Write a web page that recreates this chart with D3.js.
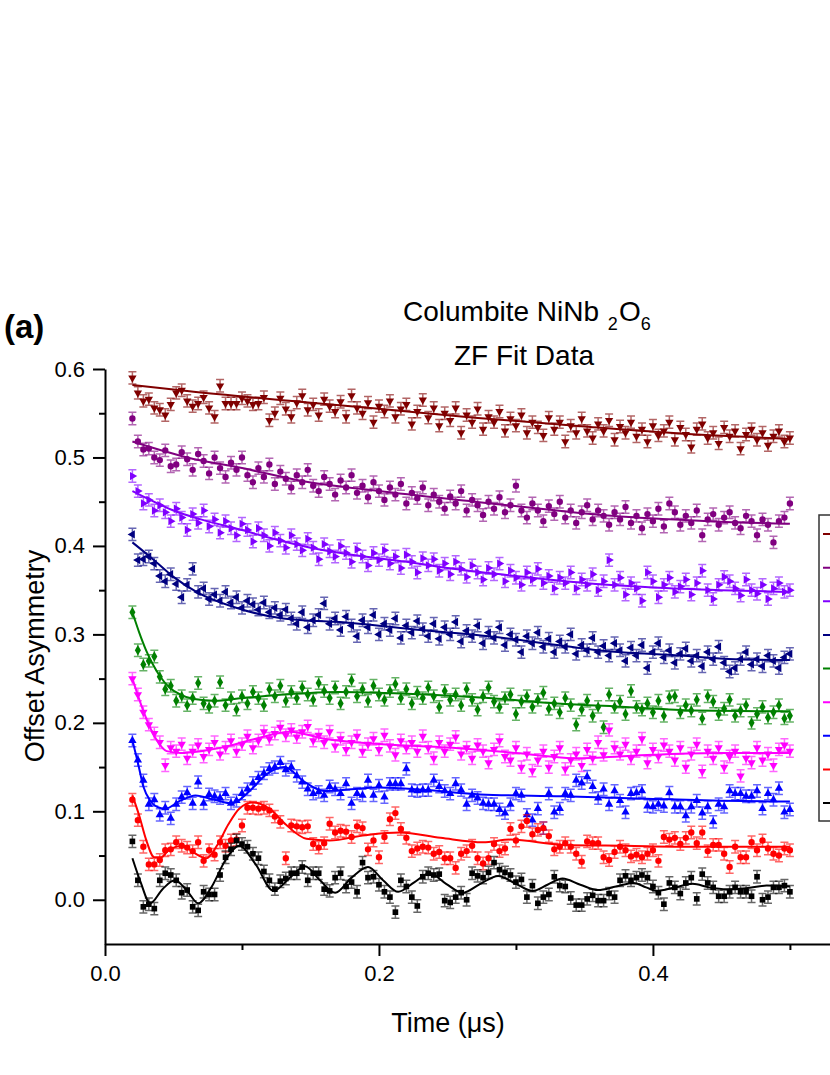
<!DOCTYPE html>
<html>
<head>
<meta charset="utf-8">
<script src="https://cdn.jsdelivr.net/npm/d3@7"></script>
<style>
body { margin: 0; background: #fff; }
text { font-family: "Liberation Sans", Arial, sans-serif; fill: #000; }
</style>
</head>
<body>
<div id="chart"></div>
<script>
// time bins, in ns (plotted in µs)
let timeNs = [
    20, 24, 28, 32, 36, 40, 44, 48, 52, 56,
    60, 64, 68, 72, 76, 80, 84, 88, 92, 96,
    100, 104, 108, 112, 116, 120, 124, 128, 132, 136,
    140, 144, 148, 152, 156, 160, 164, 168, 172, 176,
    180, 184, 188, 192, 196, 200, 204, 208, 212, 216,
    220, 224, 228, 232, 236, 240, 244, 248, 252, 256,
    260, 264, 268, 272, 276, 280, 284, 288, 292, 296,
    300, 304, 308, 312, 316, 320, 324, 328, 332, 336,
    340, 344, 348, 352, 356, 360, 364, 368, 372, 376,
    380, 384, 388, 392, 396, 400, 404, 408, 412, 416,
    420, 424, 428, 432, 436, 440, 444, 448, 452, 456,
    460, 464, 468, 472, 476, 480, 484, 488, 492, 496,
    500
];

// offset asymmetry of each curve, x1000
let wineVals = [
    590, 573, 564, 566, 556, 554, 548, 560, 573, 576,
    564, 558, 561, 568, 556, 546, 581, 561, 561, 561,
    567, 564, 560, 561, 568, 542, 550, 567, 555, 546,
    562, 570, 554, 560, 548, 566, 558, 552, 563, 546,
    570, 556, 550, 562, 540, 558, 552, 564, 546, 555,
    560, 538, 552, 565, 545, 556, 536, 550, 542, 556,
    528, 548, 540, 555, 532, 546, 540, 552, 530, 544,
    536, 548, 528, 540, 534, 525, 545, 532, 540, 518,
    536, 528, 544, 530, 522, 538, 530, 542, 520, 535,
    528, 540, 524, 532, 518, 536, 525, 530, 540, 520,
    534, 526, 512, 532, 538, 522, 528, 516, 534, 524,
    530, 510, 526, 532, 520, 528, 514, 524, 530, 518,
    522
];
let purpleVals = [
    544, 518, 509, 510, 500, 497, 508, 490, 492, 506,
    498, 486, 504, 496, 482, 500, 488, 478, 494, 486,
    500, 480, 472, 488, 478, 492, 470, 484, 476, 466,
    480, 472, 486, 468, 462, 478, 470, 458, 474, 466,
    480, 460, 468, 455, 472, 462, 452, 466, 458, 470,
    448, 460, 454, 466, 446, 458, 450, 442, 456, 448,
    462, 440, 452, 446, 435, 450, 442, 455, 438, 446,
    468, 440, 432, 448, 440, 428, 445, 436, 450, 432,
    440, 426, 438, 446, 430, 440, 434, 424, 438, 430,
    444, 426, 434, 420, 436, 428, 442, 422, 448, 438,
    424, 434, 426, 440, 412, 430, 436, 424, 432, 438,
    426, 420, 434, 428, 412, 430, 424, 404, 428, 432,
    448
];
let violetVals = [
    479, 462, 448, 452, 440, 446, 438, 428, 442, 432,
    418, 436, 426, 440, 422, 430, 415, 428, 420, 412,
    425, 418, 405, 420, 412, 400, 415, 406, 398, 412,
    402, 395, 408, 398, 385, 402, 394, 388, 400, 392,
    382, 396, 388, 378, 392, 384, 395, 380, 388, 375,
    390, 382, 370, 386, 378, 385, 372, 380, 368, 382,
    374, 365, 378, 370, 362, 375, 368, 380, 360, 372,
    364, 356, 370, 362, 374, 358, 366, 352, 364, 358,
    370, 352, 362, 356, 368, 350, 360, 384, 356, 364,
    345, 358, 352, 338, 370, 360, 342, 356, 364, 348,
    354, 362, 345, 358, 372, 350, 340, 356, 365, 360,
    352, 344, 362, 350, 346, 356, 340, 352, 358, 348,
    350
];
let navyVals = [
    413, 384, 385, 388, 380, 366, 360, 368, 357, 342,
    356, 374, 348, 352, 340, 345, 338, 348, 336, 342,
    330, 338, 334, 328, 336, 325, 330, 322, 328, 318,
    312, 325, 308, 316, 322, 335, 312, 318, 305, 320,
    310, 298, 316, 308, 322, 300, 312, 305, 318, 296,
    310, 302, 315, 306, 298, 312, 295, 308, 300, 314,
    292, 304, 298, 310, 290, 302, 296, 308, 288, 300,
    294, 280, 298, 290, 302, 286, 295, 280, 292, 286,
    300, 278, 288, 282, 296, 280, 287, 276, 290, 282,
    270, 285, 276, 288, 262, 280, 290, 274, 282, 268,
    278, 284, 270, 276, 264, 280, 272, 286, 268, 258,
    262, 272, 280, 266, 272, 264, 276, 270, 262, 274,
    278
];
let greenVals = [
    325, 282, 266, 270, 275, 252, 238, 242, 225, 230,
    220, 228, 245, 222, 218, 225, 246, 220, 228, 215,
    230, 222, 235, 228, 220, 238, 230, 242, 225, 235,
    228, 240, 232, 226, 245, 236, 228, 240, 222, 235,
    248, 230, 238, 225, 242, 232, 226, 236, 244, 228,
    238, 222, 234, 228, 240, 230, 218, 236, 226, 232,
    220, 238, 226, 215, 230, 240, 224, 218, 228, 232,
    210, 224, 230, 218, 226, 234, 216, 222, 212, 228,
    220, 198, 215, 225, 208, 218, 195, 232, 218, 224,
    210, 236, 218, 215, 222, 212, 225, 208, 229, 230,
    212, 220, 214, 226, 205, 230, 224, 210, 216, 226,
    208, 214, 220, 200, 210, 218, 206, 212, 220, 205,
    208
];
let magentaVals = [
    250, 232, 212, 198, 188, 178, 152, 172, 168, 176,
    160, 168, 175, 162, 170, 178, 165, 172, 180, 168,
    176, 185, 172, 180, 190, 182, 188, 195, 186, 192,
    184, 190, 196, 180, 186, 178, 190, 174, 182, 170,
    178, 185, 168, 176, 182, 170, 186, 174, 164, 180,
    172, 178, 168, 185, 172, 160, 178, 168, 176, 184,
    165, 172, 160, 175, 168, 155, 170, 180, 162, 158,
    172, 150, 165, 146, 158, 168, 150, 162, 172, 148,
    158, 165, 152, 170, 160, 178, 164, 192, 172, 165,
    176, 160, 168, 182, 155, 170, 162, 175, 168, 158,
    172, 150, 165, 176, 145, 168, 160, 172, 150, 162,
    168, 140, 160, 155, 172, 158, 165, 152, 170, 175,
    168
];
let blueVals = [
    180, 158, 135, 108, 113, 96, 104, 92, 108, 116,
    121, 109, 133, 109, 119, 117, 115, 120, 109, 112,
    120, 125, 132, 138, 143, 148, 150, 155, 147, 150,
    140, 133, 125, 120, 122, 118, 128, 125, 120, 131,
    109, 120, 118, 135, 118, 129, 116, 131, 131, 131,
    148, 124, 123, 124, 124, 135, 128, 123, 120, 131,
    124, 108, 118, 115, 109, 108, 108, 102, 98, 108,
    120, 118, 96, 90, 103, 81, 120, 99, 103, 120,
    118, 135, 132, 139, 128, 115, 125, 108, 123, 112,
    99, 120, 121, 123, 106, 105, 108, 106, 121, 105,
    105, 95, 105, 112, 98, 105, 88, 108, 105, 123,
    120, 120, 117, 117, 123, 103, 120, 113, 126, 99,
    102
];
let redVals = [
    113, 90, 60, 40, 40, 45, 56, 57, 65, 61,
    59, 55, 65, 44, 56, 51, 65, 61, 67, 68,
    84, 104, 104, 103, 104, 101, 94, 88, 47, 84,
    83, 82, 83, 63, 59, 64, 86, 76, 78, 77,
    71, 83, 81, 57, 67, 48, 71, 91, 98, 80,
    70, 55, 58, 60, 59, 52, 54, 47, 47, 36,
    52, 55, 61, 47, 41, 47, 63, 55, 58, 80,
    67, 83, 89, 74, 79, 81, 72, 57, 60, 64,
    60, 52, 43, 66, 64, 64, 48, 45, 54, 60,
    56, 49, 51, 48, 52, 56, 44, 71, 68, 70,
    63, 70, 76, 64, 76, 55, 62, 62, 52, 37,
    60, 48, 48, 65, 56, 67, 58, 52, 50, 58,
    56
];
let blackVals = [
    66, 22, -8, -5, -10, 22, 30, 28, 22, 8,
    11, -8, -12, 9, 6, 6, 28, 48, 57, 67,
    63, 60, 52, 47, 32, 22, 12, 21, 24, 30,
    30, 37, 22, 30, 30, 12, 10, 25, 30, 15,
    20, 9, 42, 25, 26, 17, 9, 3, -14, 22,
    15, 3, -7, 26, 30, 28, 29, -1, -3, 3,
    8, 0, 30, 27, 25, 31, 42, 34, 31, 28,
    20, 23, 3, 16, -4, 3, 6, 26, 16, 15,
    2, -6, -6, 1, 5, -1, -1, 7, 3, 22,
    27, 22, 25, 28, 25, 15, 8, -5, 19, 14,
    7, 19, 25, 1, 29, 19, 14, 4, 4, 9,
    14, 9, 9, 4, 26, 0, 3, 14, 14, 16,
    9
];

// error bar half-height of each curve, x1000 (legend order)
let errVals = [7, 7, 7, 7, 7, 7, 7, 7, 7];

// fit curves: time (ns) and value (x1000)
let wineFitT = [20, 60, 142, 200, 270, 350, 420, 500];
let wineFitV = [582, 575, 563, 555, 545, 535, 527, 521];
let purpleFitT = [20, 60, 100, 142, 200, 270, 330, 370, 440, 500];
let purpleFitV = [518, 500, 488, 474, 462, 450, 440, 434, 428, 425];
let violetFitT = [20, 33, 50, 70, 100, 118, 150, 180, 220, 250, 300, 350, 400, 450, 500];
let violetFitV = [462, 452, 440, 430, 418, 410, 398, 390, 382, 375, 366, 358, 353, 350, 348];
let navyFitT = [20, 35, 50, 68, 94, 130, 180, 230, 280, 330, 360, 420, 460, 500];
let navyFitV = [404, 385, 365, 347, 331, 318, 313, 305, 298, 288, 282, 276, 272, 271];
let greenFitT = [20, 25, 30, 35, 40, 47, 55, 65, 80, 100, 130, 170, 220, 280, 330, 380, 430, 500];
let greenFitV = [325, 302, 282, 266, 253, 240, 232, 227, 225, 228, 232, 235, 233, 228, 222, 218, 214, 213];
let magentaFitT = [20, 26, 32, 38, 45, 55, 70, 85, 110, 135, 160, 200, 250, 300, 345, 400, 450, 500];
let magentaFitV = [250, 222, 198, 180, 168, 166, 168, 172, 182, 190, 182, 176, 172, 166, 160, 164, 166, 166];
let blueFitT = [20, 24, 28, 33, 38, 44, 55, 66, 80, 93, 105, 118, 131, 145, 160, 180, 200, 235, 274, 334, 400, 450, 500];
let blueFitV = [180, 155, 128, 112, 105, 103, 112, 118, 113, 109, 122, 142, 150, 134, 123, 125, 127, 124, 119, 117, 114, 112, 111];
let redFitT = [20, 25, 30, 36, 41, 47, 57, 65, 74, 82, 90, 98, 108, 120, 132, 147, 164, 190, 215, 245, 276, 296, 334, 380, 430, 500];
let redFitV = [118, 95, 68, 48, 48, 57, 61, 53, 47, 62, 85, 103, 110, 103, 85, 69, 67, 73, 76, 70, 65, 68, 62, 61, 60, 60];
let blackFitT = [20, 26, 33, 42, 51, 60, 68, 78, 88, 98, 110, 123, 135, 146, 157, 168, 180, 192, 203, 214, 226, 237, 249, 261, 274, 287, 300, 312, 323, 334, 347, 360, 373, 386, 395, 403, 416, 429, 441, 454, 468, 483, 500];
let blackFitV = [47, 20, -4, 12, 22, 10, -4, 15, 45, 61, 40, 10, 25, 38, 22, 8, 25, 37, 22, 9, 20, 30, 18, 8, 18, 27, 18, 10, 17, 24, 17, 11, 15, 19, 14, 10, 14, 18, 14, 12, 13, 16, 15];

// axis ticks
let xTicks = [0, 0.2, 0.4];
let xMinor = [0.1, 0.3, 0.5];
let yTicks = [0, 0.1, 0.2, 0.3, 0.4, 0.5, 0.6];
let yMinor = [0.05, 0.15, 0.25, 0.35, 0.45, 0.55];

let width = 830;
let height = 1075;

var svg = d3.select("#chart")
    .append("svg")
    .attr("width", width)
    .attr("height", height);

var x = d3.scaleLinear()
    .domain([0, 0.53])
    .range([105, 831]);

var y = d3.scaleLinear()
    .domain([-0.05, 0.6])
    .range([944, 369]);

// series table, legend order (top to bottom)
var series = [
    { vals: wineVals, fitT: wineFitT, fitV: wineFitV, color: "#800000", shape: d3.symbolTriangle, rot: 180 },
    { vals: purpleVals, fitT: purpleFitT, fitV: purpleFitV, color: "#800080", shape: d3.symbolCircle, rot: 0 },
    { vals: violetVals, fitT: violetFitT, fitV: violetFitV, color: "#8000ff", shape: d3.symbolTriangle, rot: 90 },
    { vals: navyVals, fitT: navyFitT, fitV: navyFitV, color: "#000080", shape: d3.symbolTriangle, rot: -90 },
    { vals: greenVals, fitT: greenFitT, fitV: greenFitV, color: "#008000", shape: d3.symbolDiamond, rot: 0 },
    { vals: magentaVals, fitT: magentaFitT, fitV: magentaFitV, color: "#ff00ff", shape: d3.symbolTriangle, rot: 180 },
    { vals: blueVals, fitT: blueFitT, fitV: blueFitV, color: "#0000ff", shape: d3.symbolTriangle, rot: 0 },
    { vals: redVals, fitT: redFitT, fitV: redFitV, color: "#ff0000", shape: d3.symbolCircle, rot: 0 },
    { vals: blackVals, fitT: blackFitT, fitV: blackFitV, color: "#000000", shape: d3.symbolSquare, rot: 0 }
];

var fitLine = d3.line()
    .x(function (d) { return x(d[0] / 1000) })
    .y(function (d) { return y(d[1] / 1000) })
    .curve(d3.curveMonotoneX);

series.forEach(function (s, k) {
    let pts = timeNs.map(function (t, i) { return [t, s.vals[i]] });
    let g = svg.append("g");
    let err = errVals[k] / 1000;

    // error bars
    g.selectAll("path.err")
        .data(pts)
        .enter()
        .append("path")
        .attr("class", "err")
        .attr("d", function (d) {
            let cx = x(d[0] / 1000);
            let y1 = y(d[1] / 1000 + err);
            let y2 = y(d[1] / 1000 - err);
            return "M" + (cx - 4) + "," + y1 + "H" + (cx + 4) +
                "M" + cx + "," + y1 + "V" + y2 +
                "M" + (cx - 4) + "," + y2 + "H" + (cx + 4);
        })
        .attr("fill", "none")
        .attr("stroke", s.color)
        .attr("stroke-opacity", 0.6)
        .attr("stroke-width", 1.5);

    // markers
    let sym = d3.symbol().type(s.shape).size(s.shape === d3.symbolTriangle ? 30 : 32);
    g.selectAll("path.pt")
        .data(pts)
        .enter()
        .append("path")
        .attr("class", "pt")
        .attr("d", sym)
        .attr("transform", function (d) {
            return "translate(" + x(d[0] / 1000) + "," + y(d[1] / 1000) + ") rotate(" + s.rot + ")";
        })
        .attr("fill", s.color);

    // fit
    g.append("path")
        .datum(s.fitT.map(function (t, i) { return [t, s.fitV[i]] }))
        .attr("d", fitLine)
        .attr("fill", "none")
        .attr("stroke", s.color)
        .attr("stroke-width", 2);
});

// axes
function styleAxis(g) {
    g.selectAll("path.domain").attr("stroke", "#000").attr("stroke-width", 2);
    g.selectAll(".tick line").attr("stroke", "#000").attr("stroke-width", 2);
    g.selectAll(".tick text").attr("font-size", 22).attr("fill", "#000")
        .style("font-family", "'Liberation Sans', Arial, sans-serif");
}

svg.append("g")
    .attr("transform", "translate(0,944)")
    .call(d3.axisBottom(x).tickValues(xMinor).tickSize(6).tickSizeOuter(0).tickFormat(""))
    .call(styleAxis)
    .select("path.domain").remove();

svg.append("g")
    .attr("transform", "translate(105,0)")
    .call(d3.axisLeft(y).tickValues(yMinor).tickSize(6).tickSizeOuter(0).tickFormat(""))
    .call(styleAxis)
    .select("path.domain").remove();

svg.append("g")
    .attr("transform", "translate(0,944)")
    .call(d3.axisBottom(x).tickValues(xTicks).tickSize(12).tickSizeOuter(0).tickPadding(9).tickFormat(d3.format(".1f")))
    .call(styleAxis);

svg.append("g")
    .attr("transform", "translate(105,0)")
    .call(d3.axisLeft(y).tickValues(yTicks).tickSize(12).tickSizeOuter(0).tickPadding(8).tickFormat(d3.format(".1f")))
    .call(styleAxis);

// legend (mostly outside the visible area)
var legendY = d3.scalePoint()
    .domain(d3.range(series.length))
    .range([534, 803]);

svg.append("rect")
    .attr("x", 819)
    .attr("y", 515)
    .attr("width", 60)
    .attr("height", 306)
    .attr("fill", "none")
    .attr("stroke", "#333")
    .attr("stroke-width", 1.5);

svg.selectAll("line.leg")
    .data(series)
    .enter()
    .append("line")
    .attr("class", "leg")
    .attr("x1", 823)
    .attr("x2", 870)
    .attr("y1", function (d, i) { return legendY(i) })
    .attr("y2", function (d, i) { return legendY(i) })
    .attr("stroke", function (d) { return d.color })
    .attr("stroke-width", 2);

// titles
svg.append("text")
    .attr("x", 4)
    .attr("y", 338)
    .attr("font-size", 33)
    .attr("font-weight", "bold")
    .text("(a)");

var title = svg.append("text")
    .attr("x", 403)
    .attr("y", 321)
    .attr("font-size", 28);
title.append("tspan").text("Columbite NiNb ");
title.append("tspan").attr("font-size", 18).attr("dy", 9).attr("dx", 1).text("2");
title.append("tspan").attr("dy", -9).attr("dx", 1).text("O");
title.append("tspan").attr("font-size", 18).attr("dy", 9).text("6");

svg.append("text")
    .attr("x", 524)
    .attr("y", 365)
    .attr("font-size", 28)
    .attr("text-anchor", "middle")
    .text("ZF Fit Data");

svg.append("text")
    .attr("x", 448)
    .attr("y", 1032)
    .attr("font-size", 27)
    .attr("text-anchor", "middle")
    .text("Time (μs)");

svg.append("text")
    .attr("transform", "translate(44,656) rotate(-90)")
    .attr("font-size", 27)
    .attr("text-anchor", "middle")
    .text("Offset Asymmetry");
</script>
</body>
</html>
